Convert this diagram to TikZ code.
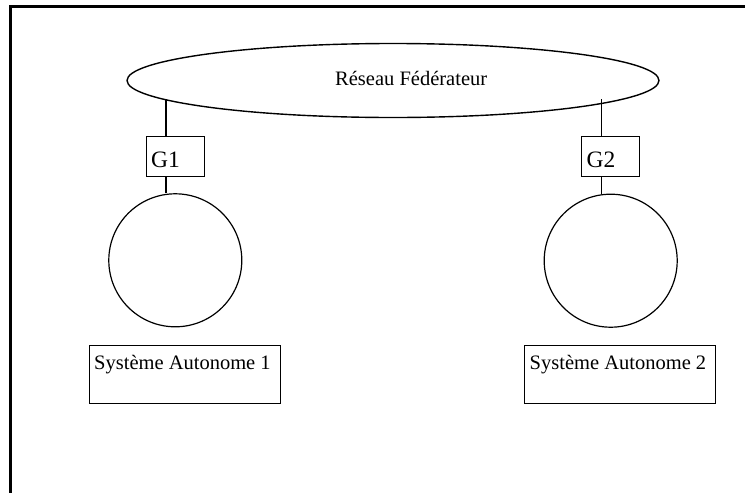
\documentclass[tikz,border=0pt]{standalone}
\usepackage{fontspec}
\setmainfont{Liberation Serif}
\usetikzlibrary{shapes.geometric}
\begin{document}
\begin{tikzpicture}[x=1pt,y=-1pt,
  thin line/.style={line width=1.2pt},
  gbox/.style={draw,thin line,rectangle,minimum width=58pt,minimum height=40pt,inner sep=0pt},
  sabox/.style={draw,thin line,rectangle,minimum width=191pt,minimum height=58pt,inner sep=0pt},
  ring/.style={draw,thin line,circle,minimum size=133pt,inner sep=0pt},
  bigtxt/.style={font=\fontsize{20.5}{24}\selectfont,inner sep=0pt,anchor=base west},
  gtxt/.style={font=\fontsize{23.5}{28}\selectfont,inner sep=0pt,anchor=base west}]
\useasboundingbox (0,0) rectangle (745,493);
% frame
\draw[line width=2.2pt] (10.5,493) -- (10.5,6.5) -- (745,6.5);
% backbone
\node[draw,line width=1.4pt,ellipse,minimum width=532pt,minimum height=74pt,inner sep=0pt] (net) at (393,80.5) {};
\node[bigtxt] (netlbl) at (335,85) {Réseau Fédérateur};
% gateways
\node[gbox] (g1) at (175.7,156.7) {};
\node[gtxt] (g1t) at (151,167) {G1};
\node[gbox] (g2) at (610.8,156.8) {};
\node[gtxt] (g2t) at (586.5,167) {G2};
% autonomous systems
\node[ring] (c1) at (175.3,260.3) {};
\node[ring] (c2) at (610.7,260.7) {};
\node[sabox] (s1) at (184.8,374.7) {};
\node[bigtxt] (s1t) at (94,369.5) {Système Autonome 1};
\node[sabox] (s2) at (620.3,374.7) {};
\node[bigtxt] (s2t) at (529.5,369.5) {Système Autonome 2};
% connectors
\coordinate (a1) at (166,99);
\coordinate (a2) at (601.5,99);
\draw[thin line] (a1) -- (a1 |- g1.north);
\draw[thin line] (a1 |- g1.south) -- (a1 |- c1.north);
\draw[thin line] (a2) -- (a2 |- g2.north);
\draw[thin line] (a2 |- g2.south) -- (a2 |- c2.north);
\end{tikzpicture}
\end{document}
